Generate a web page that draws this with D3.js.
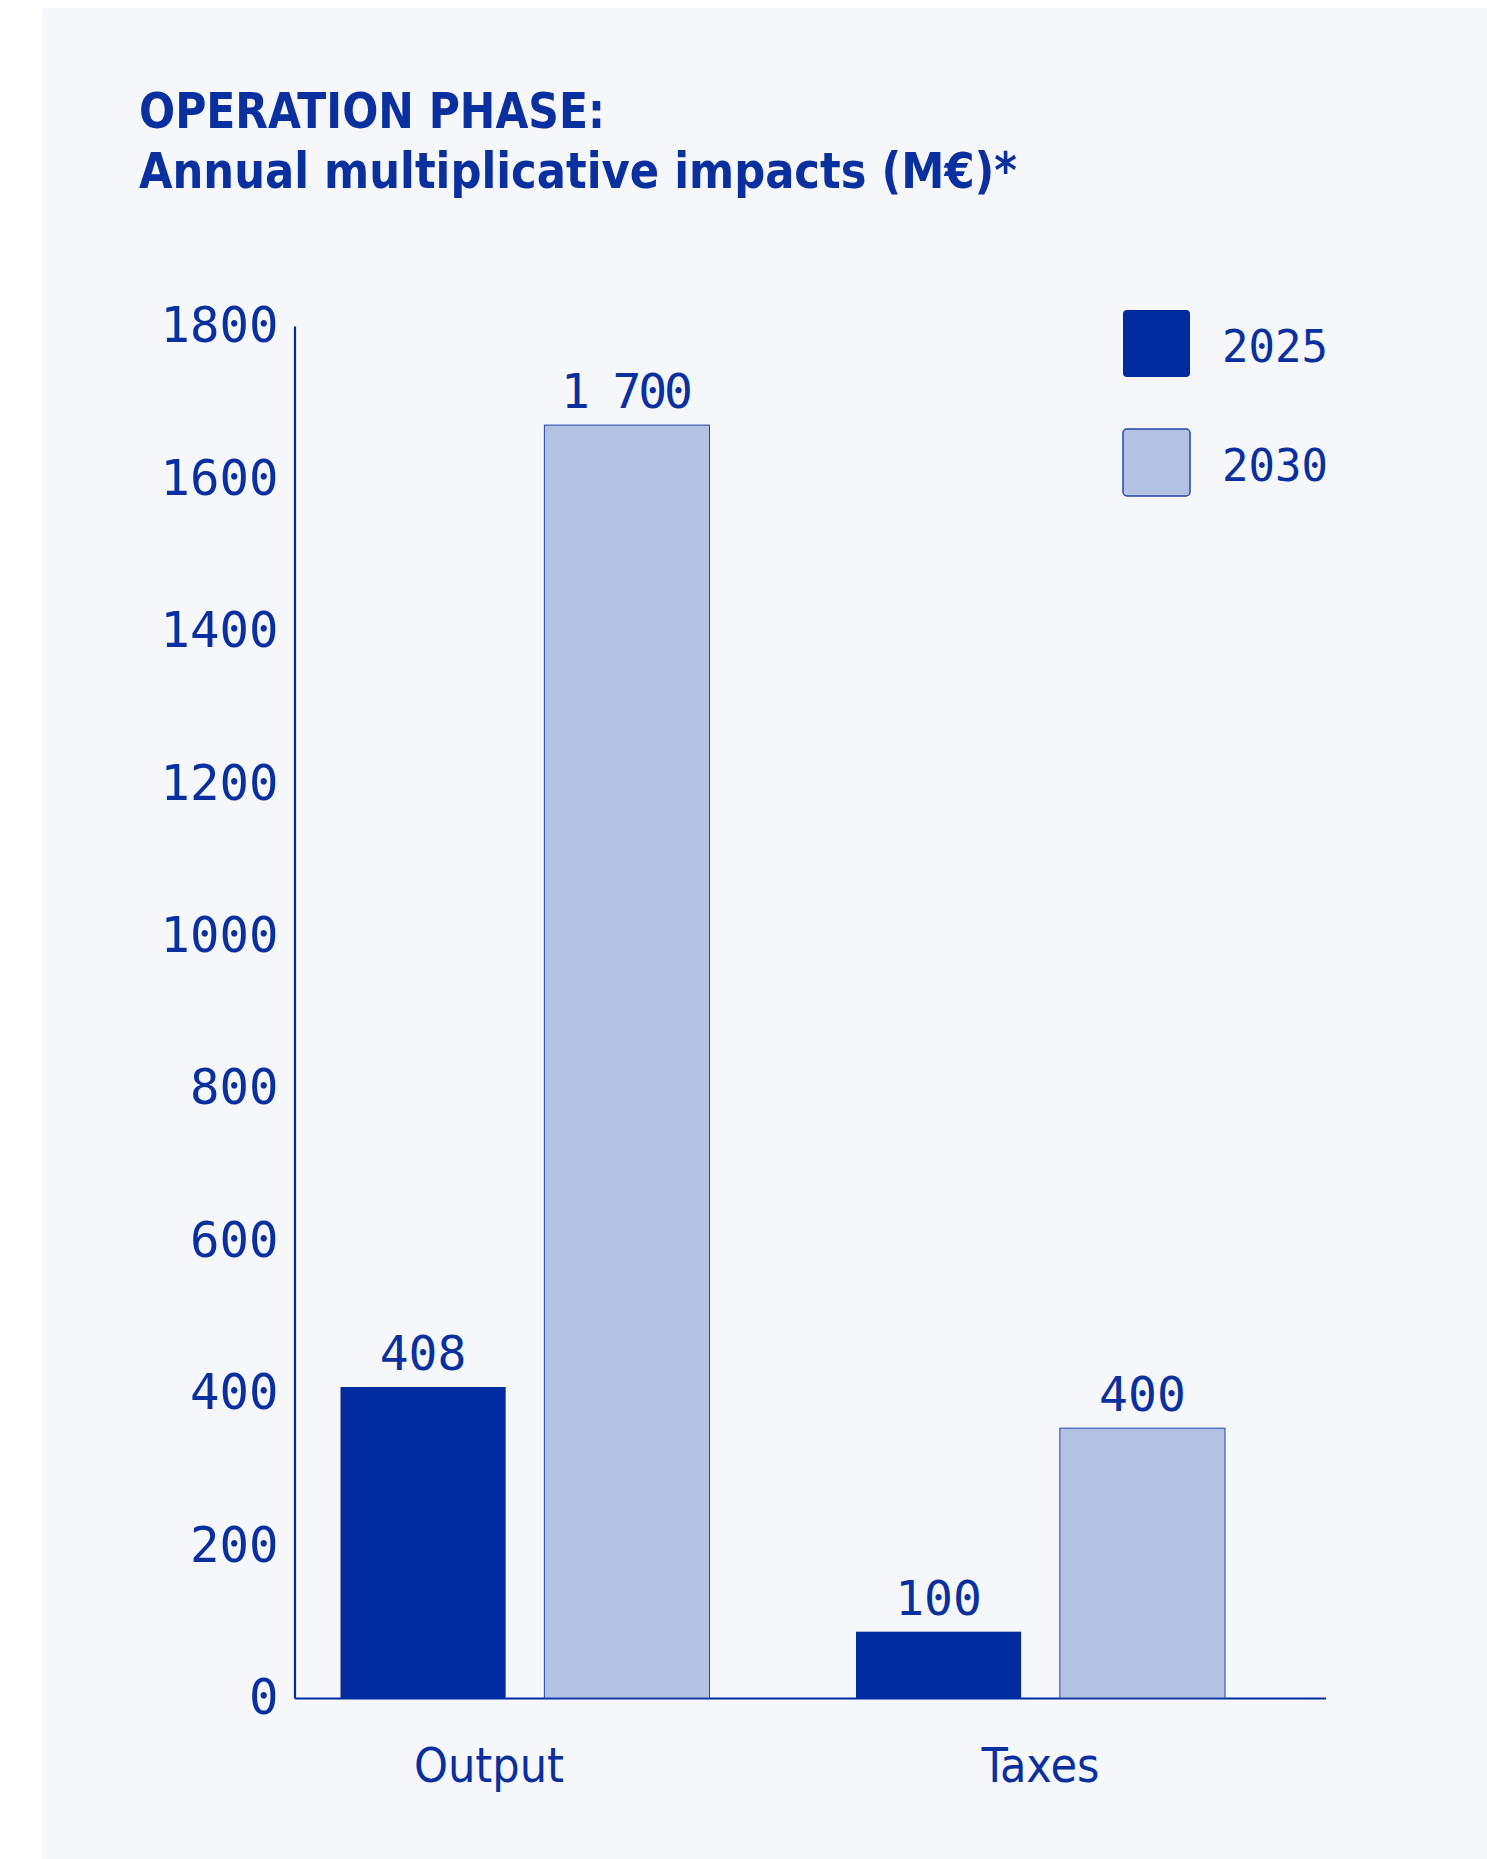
<!DOCTYPE html>
<html>
<head>
<meta charset="utf-8">
<script src="https://cdn.jsdelivr.net/npm/d3@7"></script>
<style>
  body { margin: 0; background: #fff; }
  svg { display: block; }
</style>
</head>
<body>
<script>
// data
const categories = ["Output", "Taxes"];
const series = ["2025", "2030"];
const values2025 = [408, 87];
const values2030 = [1670, 354];
const labels2025 = ["408", "100"];
const labels2030 = ["1 700", "400"];
const yTicks = [0, 200, 400, 600, 800, 1000, 1200, 1400, 1600, 1800];
const titleLines = ["OPERATION PHASE:", "Annual multiplicative impacts (M€)*"];

var width = 1487,
    height = 1859;

var dark = "#002ca0",
    light = "#b3c1e3",
    ink = "#0a2f9f";

var svg = d3.select("body").append("svg")
    .attr("width", width)
    .attr("height", height);

// panel
svg.append("rect")
    .attr("x", 42).attr("y", 8)
    .attr("width", width).attr("height", height)
    .attr("rx", 4)
    .attr("fill", "#f5f7fb");

// title
svg.append("g").selectAll("text")
  .data(titleLines)
  .enter().append("text")
    .attr("x", 139)
    .attr("y", (d, i) => 128 + i * 60)
    .attr("textLength", (d, i) => i ? 878 : 466)
    .attr("lengthAdjust", "spacingAndGlyphs")
    .style("font-family", "'DejaVu Sans Condensed', 'DejaVu Sans', sans-serif")
    .style("font-weight", "bold")
    .style("font-size", "50px")
    .attr("fill", ink)
    .text(d => d);

var y = d3.scaleLinear().domain([0, 1800]).range([1698, 326]);
var x0 = d3.scaleBand().domain(categories).range([294.5, 1325.5]);
var x1 = d3.scaleBand().domain(series).range([46, 415]).paddingInner(0.19);
var color = d3.scaleOrdinal().domain(series).range([dark, light]);

// y axis
var yAxis = svg.append("g")
    .attr("transform", "translate(294.5,0)")
    .call(d3.axisLeft(y).tickValues(yTicks).tickFormat(d3.format("d")).tickSize(0).tickPadding(16));
yAxis.select(".domain").attr("stroke", dark).attr("stroke-width", 2.2);
yAxis.selectAll("text")
    .attr("fill", ink)
    .style("font-family", "'DejaVu Sans Mono', monospace")
    .style("font-size", "49px");

// x axis line only
var xAxis = svg.append("g")
    .attr("transform", "translate(0," + y(0) + ")")
    .call(d3.axisBottom(x0).tickSize(0).tickSizeOuter(0).tickFormat(""));
xAxis.select(".domain").attr("stroke", dark).attr("stroke-width", 2.2);

var rows = categories.map((c, i) => ({
  cat: c,
  bars: [
    { key: "2025", value: values2025[i], label: labels2025[i] },
    { key: "2030", value: values2030[i], label: labels2030[i] }
  ]
}));

var groups = svg.append("g").selectAll("g")
  .data(rows)
  .enter().append("g")
    .attr("transform", d => "translate(" + x0(d.cat) + ",0)");

groups.selectAll("rect")
  .data(d => d.bars)
  .enter().append("rect")
    .attr("x", d => x1(d.key))
    .attr("y", d => y(d.value))
    .attr("width", x1.bandwidth())
    .attr("height", d => y(0) - y(d.value))
    .attr("fill", d => color(d.key))
    .attr("stroke", d => d.key === "2030" ? "#2346ad" : "none")
    .attr("stroke-width", 1);

groups.selectAll("text.val")
  .data(d => d.bars)
  .enter().append("text")
    .attr("class", "val")
    .attr("x", d => x1(d.key) + x1.bandwidth() / 2)
    .attr("y", d => y(d.value) - 17)
    .attr("text-anchor", "middle")
    .attr("fill", ink)
    .style("font-family", "'DejaVu Sans Mono', monospace")
    .style("font-size", "48px")
    .each(function(d) {
      // the thousands gap is a thin space in the original
      if (d.label.indexOf(" ") >= 0)
        d3.select(this).attr("textLength", 132).attr("lengthAdjust", "spacing");
    })
    .text(d => d.label);

// category labels
var catShift = [-36, 0];
groups.append("text")
    .attr("x", (d, i) => 230.5 + catShift[i])
    .attr("y", 1782)
    .attr("text-anchor", "middle")
    .attr("fill", ink)
    .style("font-family", "'DejaVu Sans Condensed', 'DejaVu Sans', sans-serif")
    .style("font-size", "48px")
    .text(d => d.cat);

// legend
var legend = svg.append("g").selectAll("g")
  .data(series)
  .enter().append("g")
    .attr("transform", (d, i) => "translate(1123," + (310 + i * 119) + ")");

legend.append("rect")
    .attr("width", 67).attr("height", 67)
    .attr("rx", 4)
    .attr("fill", d => color(d))
    .attr("stroke", d => d === "2030" ? "#2346ad" : "none")
    .attr("stroke-width", 1.5);

legend.append("text")
    .attr("x", 99)
    .attr("y", 52)
    .attr("fill", ink)
    .style("font-family", "'DejaVu Sans Mono', monospace")
    .style("font-size", "44px")
    .text(d => d);
</script>
</body>
</html>
